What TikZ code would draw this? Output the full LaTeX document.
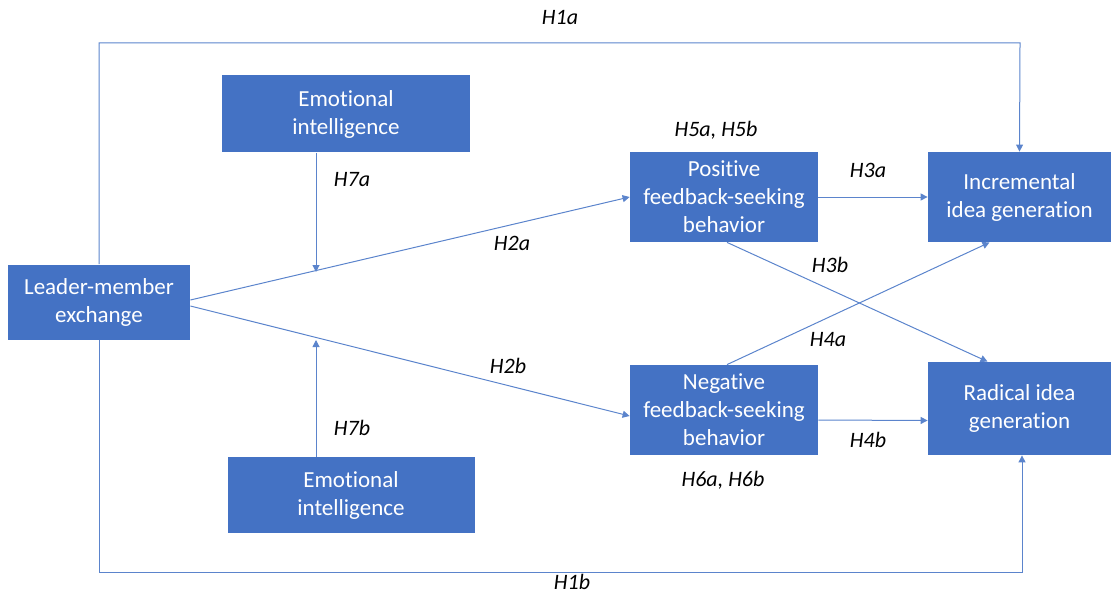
\documentclass[tikz,border=0pt]{standalone}
\usepackage{fontspec}
\setmainfont[Ligatures=NoCommon]{Carlito}
\usetikzlibrary{arrows.meta}
\definecolor{boxblue}{HTML}{4472C4}
\definecolor{lineblue}{HTML}{5B84CC}
\tikzset{
  var/.style={fill=boxblue, text=white, align=center, inner sep=0pt,
    font=\fontsize{11.5}{14}\selectfont},
  hyp/.style={font=\fontsize{11}{13}\selectfont\itshape},
  link/.style={draw=lineblue, line width=0.5pt, -{Triangle[length=3.5pt,width=3.5pt]}}
}
\begin{document}
\begin{tikzpicture} [x=0.5pt,y=-0.5pt]
\useasboundingbox (0,0) rectangle (1111,593);
\node [var, minimum width=91pt, minimum height=37.5pt] (lmx) at (99,302) {Leader-member\\exchange};
\node [var, minimum width=124pt, minimum height=38.5pt] (ei1) at (346,114) {Emotional\\intelligence};
\node [var, minimum width=123.5pt, minimum height=38pt] (ei2) at (351,495) {Emotional\\intelligence};
\node [var, minimum width=94pt, minimum height=45pt] (pos) at (724,197) {Positive\\feedback-seeking\\behavior};
\node [var, minimum width=94pt, minimum height=45pt] (neg) at (724,410) {Negative\\feedback-seeking\\behavior};
\node [var, minimum width=91.5pt, minimum height=45pt] (inc) at (1019.5,197) {Incremental\\idea generation};
\node [var, minimum width=91.5pt, minimum height=46.5pt] (rad) at (1019.5,408.5) {Radical idea\\generation};

\coordinate (m1) at (316,272);
\coordinate (m2) at (316,340);
\coordinate (t1) at (99,43);
\coordinate (t2) at (1020,43);
\coordinate (b1) at (99,572);
\coordinate (b2) at (1022,572);

\draw [link] (lmx.north) -- (t1) -- (t2) -- (inc.north);
\draw [link] (lmx.south) -- (b1) -- (b2) -- (b2 |- rad.south);
\draw [link] (lmx.east) ++(0,-2) -- (pos.west);
\draw [link] (lmx.east) ++(0,4) -- ([yshift=-3pt]neg.west);
\draw [link] (ei1.south -| m1) -- (m1);
\draw [link] (ei2.north -| m2) -- (m2);
\draw [link] (pos.east) -- (inc.west);
\draw [link] ([yshift=-5pt]neg.east) -- ([yshift=-6pt]rad.west);
\draw [link] ([xshift=1.5pt]pos.south) -- ([xshift=-16pt]rad.north);
\draw [link] ([xshift=1.5pt]neg.north) -- ([xshift=-15pt]inc.south);

\node [hyp] (h1a) at (560,18) {H1a};
\node [hyp] (h1b) at (572,582) {H1b};
\node [hyp] (h7a) at (352,180) {H7a};
\node [hyp] (h7b) at (352,428) {H7b};
\node [hyp] (h2a) at (512,243) {H2a};
\node [hyp] (h2b) at (508,366) {H2b};
\node [hyp] (h5) at (716,130) {H5a, H5b};
\node [hyp] (h6) at (723,480) {H6a, H6b};
\node [hyp] (h3a) at (868,170) {H3a};
\node [hyp] (h3b) at (830,265) {H3b};
\node [hyp] (h4a) at (828,340) {H4a};
\node [hyp] (h4b) at (868,440) {H4b};
\end{tikzpicture}
\end{document}
